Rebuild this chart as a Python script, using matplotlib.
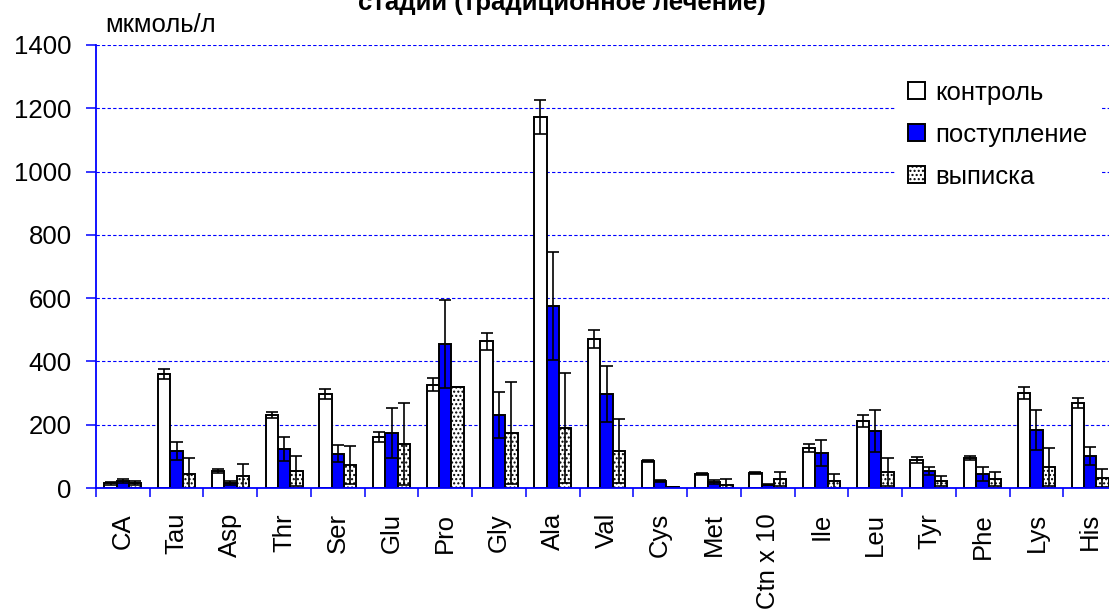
import matplotlib
matplotlib.use("Agg")
import matplotlib.pyplot as plt
import numpy as np

plt.rcParams["font.family"] = ["Liberation Sans", "DejaVu Sans"]
plt.rcParams["hatch.linewidth"] = 1.0

# Amino acid concentrations, mkmol/l
categories = ["CA", "Tau", "Asp", "Thr", "Ser", "Glu", "Pro", "Gly", "Ala", "Val",
              "Cys", "Met", "Ctn x 10", "Ile", "Leu", "Tyr", "Phe", "Lys", "His"]
control = [15, 361, 54, 231, 298, 162, 327, 463, 1173, 472, 86, 44, 48, 127, 212, 89, 95, 301, 269]
control_err = [5, 16, 6, 10, 16, 16, 22, 28, 54, 28, 3, 4, 3, 13, 19, 10, 5, 19, 16]
admission = [22, 117, 16, 124, 108, 174, 456, 231, 574, 298, 22, 19, 10, 111, 181, 54, 44, 184, 101]
admission_err = [6, 28, 7, 38, 27, 79, 139, 73, 171, 89, 2, 6, 2, 41, 67, 13, 22, 63, 29]
discharge = [16, 44, 38, 54, 73, 139, 320, 174, 190, 117, 3, 10, 28, 22, 51, 22, 28, 67, 32]
discharge_err = [6, 51, 38, 47, 60, 130, 0, 162, 174, 101, 1, 19, 22, 22, 44, 16, 22, 60, 29]

series_labels = ["контроль", "поступление", "выписка"]
y_ticks = [0, 200, 400, 600, 800, 1000, 1200, 1400]

W, H = 1109, 610
fig = plt.figure(figsize=(W / 100, H / 100), dpi=100)
ax = fig.add_axes([96 / W, 122 / H, (1117 - 96) / W, 443 / H])

n = len(categories)
centers = np.arange(n) + 0.5
bw = 0.23
fs = 18.5

styles = [
    dict(color="white", hatch=None),
    dict(color="#0000FF", hatch=None),
    dict(color="white", hatch="...."),
]
data = [(control, control_err), (admission, admission_err), (discharge, discharge_err)]
handles = []
for k, ((vals, errs), st) in enumerate(zip(data, styles)):
    xs = centers + (k - 1) * bw
    b = ax.bar(xs, vals, width=bw, color=st["color"], edgecolor="black",
               linewidth=1.4, hatch=st["hatch"], zorder=2)
    ax.errorbar(xs, vals, yerr=errs, fmt="none", ecolor="black", elinewidth=1.2,
                capsize=4.3, capthick=1.2, zorder=3)
    handles.append(b)

ax.set_xlim(0, n)
ax.set_ylim(0, 1400)
ax.set_yticks(y_ticks)
ax.set_yticklabels([str(v) for v in y_ticks])

# group separators as major ticks, names as minor (unticked) labels
ax.set_xticks(np.arange(n + 1))
ax.set_xticklabels([])
ax.set_xticks(centers, minor=True)
ax.set_xticklabels(categories, minor=True, rotation=90, fontsize=fs)
ax.tick_params(axis="x", which="minor", length=0, pad=18)
ax.tick_params(axis="x", which="major", length=6.5, width=1.1, color="#0000FF", direction="out")
ax.tick_params(axis="y", which="major", length=7.5, width=1.1, color="#0000FF",
               direction="out", labelsize=fs, pad=10)

for side in ("top", "right"):
    ax.spines[side].set_visible(False)
for side in ("left", "bottom"):
    ax.spines[side].set_color("#0000FF")
    ax.spines[side].set_linewidth(1.3)
    ax.spines[side].set_zorder(4)

ax.yaxis.grid(True, color="#0000FF", linestyle=(0, (3, 2)), linewidth=0.8, zorder=0)
ax.set_axisbelow(True)

leg = ax.legend(handles, series_labels, loc="upper left",
                bbox_to_anchor=(895 / W, 1 - 68 / H), bbox_transform=fig.transFigure,
                frameon=True, fancybox=False, framealpha=1, edgecolor="none",
                facecolor="white", fontsize=fs, handlelength=0.65, handleheight=0.65,
                handletextpad=0.4, labelspacing=0.7, borderpad=0.5, borderaxespad=0)
leg.set_zorder(5)

fig.text(105 / W, 1 - 32 / H, "мкмоль/л", fontsize=fs, ha="left", va="baseline")
fig.text(562 / W, 1 - 10 / H, "стадии (традиционное лечение)", fontsize=fs,
         fontweight="bold", ha="center", va="baseline")

fig.savefig("out.png", dpi=100)
